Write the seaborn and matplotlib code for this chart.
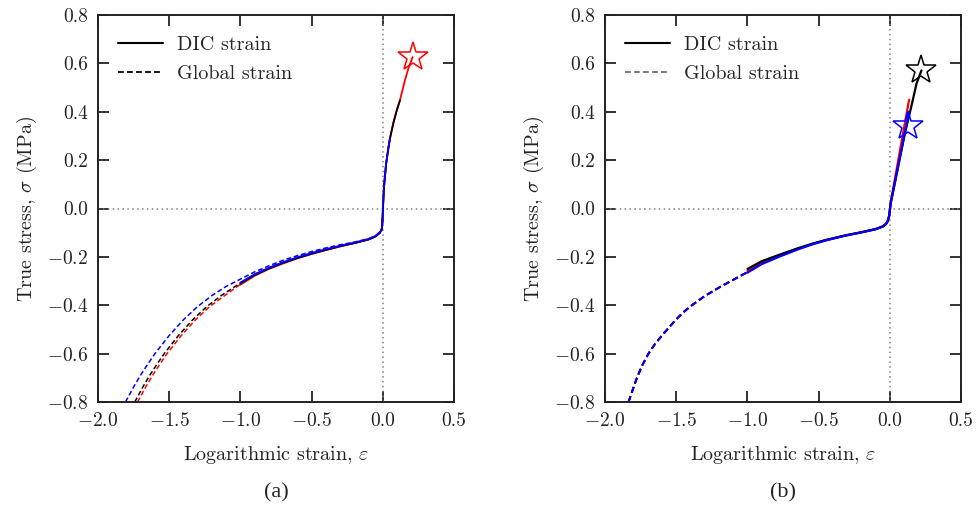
import matplotlib
matplotlib.use("Agg")
import matplotlib.pyplot as plt
import seaborn as sns
import pandas as pd

# ---------------- data ----------------
# Panel (a) - DIC strain (solid)
a_dic_black_x = [-1.0, -0.9, -0.8, -0.7, -0.6, -0.5, -0.4, -0.3, -0.2, -0.1, -0.05, -0.02, -0.008, -0.003, 0.0,
                 0.008, 0.023, 0.04, 0.05, 0.073, 0.095, 0.12]
a_dic_black_y = [-0.31, -0.275, -0.248, -0.225, -0.205, -0.187, -0.171, -0.156, -0.143, -0.128, -0.115, -0.1, -0.087, -0.06, -0.01,
                 0.088, 0.185, 0.254, 0.289, 0.351, 0.40, 0.447]
a_dic_red_x = [-1.0, -0.9, -0.8, -0.7, -0.6, -0.5, -0.4, -0.3, -0.2, -0.1, -0.05, -0.02, -0.008, -0.003, 0.0,
               0.008, 0.023, 0.04, 0.05, 0.073, 0.095, 0.12, 0.155, 0.18, 0.209]
a_dic_red_y = [-0.315, -0.278, -0.25, -0.227, -0.206, -0.188, -0.172, -0.157, -0.143, -0.128, -0.115, -0.1, -0.087, -0.06, -0.01,
               0.088, 0.185, 0.254, 0.289, 0.351, 0.40, 0.447, 0.53, 0.58, 0.626]
a_dic_blue_x = [-1.0, -0.9, -0.8, -0.7, -0.6, -0.5, -0.4, -0.3, -0.2, -0.1, -0.05, -0.02, -0.008, -0.003, 0.0,
                0.008, 0.023, 0.04, 0.05]
a_dic_blue_y = [-0.306, -0.272, -0.245, -0.222, -0.202, -0.184, -0.168, -0.154, -0.141, -0.126, -0.113, -0.098, -0.086, -0.058, -0.01,
                0.088, 0.185, 0.254, 0.289]

# Panel (a) - Global strain (dashed)
a_glb_blue_x = [-1.807, -1.75, -1.7, -1.65, -1.6, -1.5, -1.4, -1.3, -1.2, -1.1, -1.0, -0.9, -0.8, -0.7, -0.6,
                -0.5, -0.4, -0.3, -0.2, -0.1, -0.05, -0.02, -0.008, 0.0]
a_glb_blue_y = [-0.8, -0.738, -0.688, -0.643, -0.6, -0.525, -0.46, -0.405, -0.36, -0.322, -0.292, -0.262, -0.237, -0.214, -0.195,
                -0.178, -0.163, -0.15, -0.139, -0.125, -0.112, -0.097, -0.085, -0.03]
a_glb_black_x = [-1.742, -1.685, -1.635, -1.585, -1.535, -1.435, -1.335, -1.235, -1.135, -1.0, -0.9, -0.8, -0.7, -0.6,
                 -0.5, -0.4, -0.3, -0.2, -0.1, -0.05, -0.02, -0.008, 0.0]
a_glb_black_y = [-0.8, -0.738, -0.688, -0.643, -0.6, -0.525, -0.46, -0.405, -0.36, -0.308, -0.272, -0.245, -0.222, -0.202,
                 -0.185, -0.17, -0.155, -0.143, -0.128, -0.115, -0.099, -0.087, -0.03]
a_glb_red_x = [-1.722, -1.665, -1.615, -1.565, -1.515, -1.415, -1.315, -1.215, -1.115, -1.0, -0.9, -0.8, -0.7, -0.6,
               -0.5, -0.4, -0.3, -0.2, -0.1, -0.05, -0.02, -0.008, 0.0]
a_glb_red_y = [-0.8, -0.738, -0.688, -0.643, -0.6, -0.525, -0.46, -0.405, -0.362, -0.313, -0.276, -0.247, -0.224, -0.203,
               -0.186, -0.171, -0.156, -0.143, -0.128, -0.115, -0.099, -0.087, -0.03]

# Panel (a) - failure point
a_star_x = [0.209]
a_star_y = [0.626]

# Panel (b) - DIC strain (solid)
b_dic_black_x = [-1.0, -0.9, -0.78, -0.65, -0.548, -0.45, -0.31, -0.2, -0.1, -0.05, -0.028, -0.015, -0.006, 0.0, 0.005,
                 0.105, 0.15, 0.187, 0.222]
b_dic_black_y = [-0.25, -0.218, -0.192, -0.165, -0.146, -0.13, -0.111, -0.098, -0.085, -0.074, -0.064, -0.052, -0.033, -0.008, 0.019,
                 0.31, 0.42, 0.516, 0.571]
b_dic_red_x = [-1.0, -0.9, -0.78, -0.65, -0.548, -0.45, -0.31, -0.2, -0.1, -0.05, -0.028, -0.015, -0.006, 0.0, 0.004, 0.135]
b_dic_red_y = [-0.258, -0.224, -0.196, -0.167, -0.147, -0.131, -0.111, -0.098, -0.085, -0.074, -0.064, -0.052, -0.033, -0.008, 0.019, 0.45]
b_dic_blue_x = [-1.0, -0.9, -0.78, -0.65, -0.548, -0.45, -0.31, -0.2, -0.1, -0.05, -0.028, -0.015, -0.006, 0.0, 0.005, 0.135]
b_dic_blue_y = [-0.265, -0.23, -0.2, -0.17, -0.149, -0.132, -0.112, -0.099, -0.086, -0.075, -0.065, -0.053, -0.034, -0.008, 0.019, 0.399]

# Panel (b) - Global strain (dashed)
b_glb_x = [-1.835, -1.8, -1.776, -1.74, -1.695, -1.65, -1.6, -1.566, -1.5, -1.45, -1.39, -1.3, -1.2, -1.11, -1.05, -1.0]
b_glb_y = [-0.8, -0.74, -0.7, -0.65, -0.6, -0.561, -0.525, -0.502, -0.458, -0.429, -0.4, -0.362, -0.327, -0.298, -0.279, -0.263]

# Panel (b) - failure points
b_star_black_x = [0.222]
b_star_black_y = [0.571]
b_star_blue_x = [0.128]
b_star_blue_y = [0.34]

x_ticks = [-2.0, -1.5, -1.0, -0.5, 0.0, 0.5]
y_ticks = [-0.8, -0.6, -0.4, -0.2, 0.0, 0.2, 0.4, 0.6, 0.8]
legend_labels = ["DIC strain", "Global strain"]
x_label = r"Logarithmic strain, $\varepsilon$"
y_label = r"True stress, $\sigma$ (MPa)"
panel_labels = ["(a)", "(b)"]

# ---------------- style ----------------
sns.set_style("ticks")
plt.rcParams["font.family"] = ["cmr10", "DejaVu Serif"]
plt.rcParams["mathtext.fontset"] = "cm"
plt.rcParams["axes.formatter.use_mathtext"] = True
plt.rcParams["axes.unicode_minus"] = True

fig = plt.figure(figsize=(9.76, 5.11), dpi=100)
ax_a = fig.add_axes([0.1004, 0.2133, 0.3648, 0.7573])
ax_b = fig.add_axes([0.6199, 0.2133, 0.3648, 0.7573])

DASH = (0, (3.2, 1.8))
LW = 1.3


def line(ax, x, y, color, ls="-", lw=LW, z=2):
    df = pd.DataFrame({"x": x, "y": y})
    sns.lineplot(data=df, x="x", y="y", ax=ax, color=color, linestyle=ls,
                 linewidth=lw, sort=False, estimator=None, zorder=z)


def star(ax, x, y, color):
    ax.plot(x, y, linestyle="none", marker="*", markersize=22, markerfacecolor="none",
            markeredgecolor=color, markeredgewidth=1.1, zorder=5)


for ax in (ax_a, ax_b):
    ax.axhline(0, color="#808080", linestyle=(0, (1, 2.2)), linewidth=1.1, zorder=1)
    ax.axvline(0, color="#808080", linestyle=(0, (1, 2.2)), linewidth=1.1, zorder=1)

# Panel (a)
line(ax_a, a_glb_red_x, a_glb_red_y, "red", DASH, 1.1)
line(ax_a, a_glb_black_x, a_glb_black_y, "black", DASH, 1.1)
line(ax_a, a_glb_blue_x, a_glb_blue_y, "blue", DASH, 1.1)
line(ax_a, a_dic_red_x, a_dic_red_y, "red")
line(ax_a, a_dic_black_x, a_dic_black_y, "black")
line(ax_a, a_dic_blue_x, a_dic_blue_y, "blue")
star(ax_a, a_star_x, a_star_y, "red")

# Panel (b)
line(ax_b, b_glb_x, b_glb_y, "red", DASH, 1.4)
line(ax_b, b_glb_x, b_glb_y, "black", DASH, 1.4)
line(ax_b, b_glb_x, b_glb_y, "blue", DASH, 1.4)
line(ax_b, b_dic_red_x, b_dic_red_y, "red", lw=1.6)
line(ax_b, b_dic_black_x, b_dic_black_y, "black", lw=1.6)
line(ax_b, b_dic_blue_x, b_dic_blue_y, "blue", lw=1.6)
star(ax_b, b_star_black_x, b_star_black_y, "black")
star(ax_b, b_star_blue_x, b_star_blue_y, "blue")

for ax, lab, glb_color in ((ax_a, panel_labels[0], "black"), (ax_b, panel_labels[1], "#707070")):
    ax.set_xlim(-2.0, 0.5)
    ax.set_ylim(-0.8, 0.8)
    ax.set_xticks(x_ticks)
    ax.set_yticks(y_ticks)
    ax.set_xticklabels([f"{v:.1f}" if v >= 0 else r"$-$" + f"{abs(v):.1f}" for v in x_ticks])
    ax.set_yticklabels([f"{v:.1f}" if v >= 0 else r"$-$" + f"{abs(v):.1f}" for v in y_ticks])
    ax.tick_params(direction="in", top=True, right=True, length=8, width=1.3,
                   labelsize=14, colors="#222222", pad=7)
    for sp in ax.spines.values():
        sp.set_visible(True)
        sp.set_linewidth(1.4)
        sp.set_color("#222222")
    ax.set_xlabel(x_label, fontsize=14.5, labelpad=10, color="#222222")
    ax.set_ylabel(y_label, fontsize=14.5, labelpad=6, color="#222222")
    h1, = ax.plot([], [], color="black", linewidth=1.5)
    h2, = ax.plot([], [], color=glb_color, linewidth=1.3, linestyle=DASH)
    ax.legend([h1, h2], legend_labels, loc="upper left", frameon=False, fontsize=14.5,
              handlelength=2.2, handletextpad=0.7, labelspacing=0.55,
              borderaxespad=0.35, bbox_to_anchor=(0.015, 0.985))
    pos = ax.get_position()
    fig.text((pos.x0 + pos.x1) / 2, 0.035, lab, ha="center", va="center",
             fontsize=16, family=["Liberation Serif", "DejaVu Serif"])

fig.savefig("out.png", dpi=100)
